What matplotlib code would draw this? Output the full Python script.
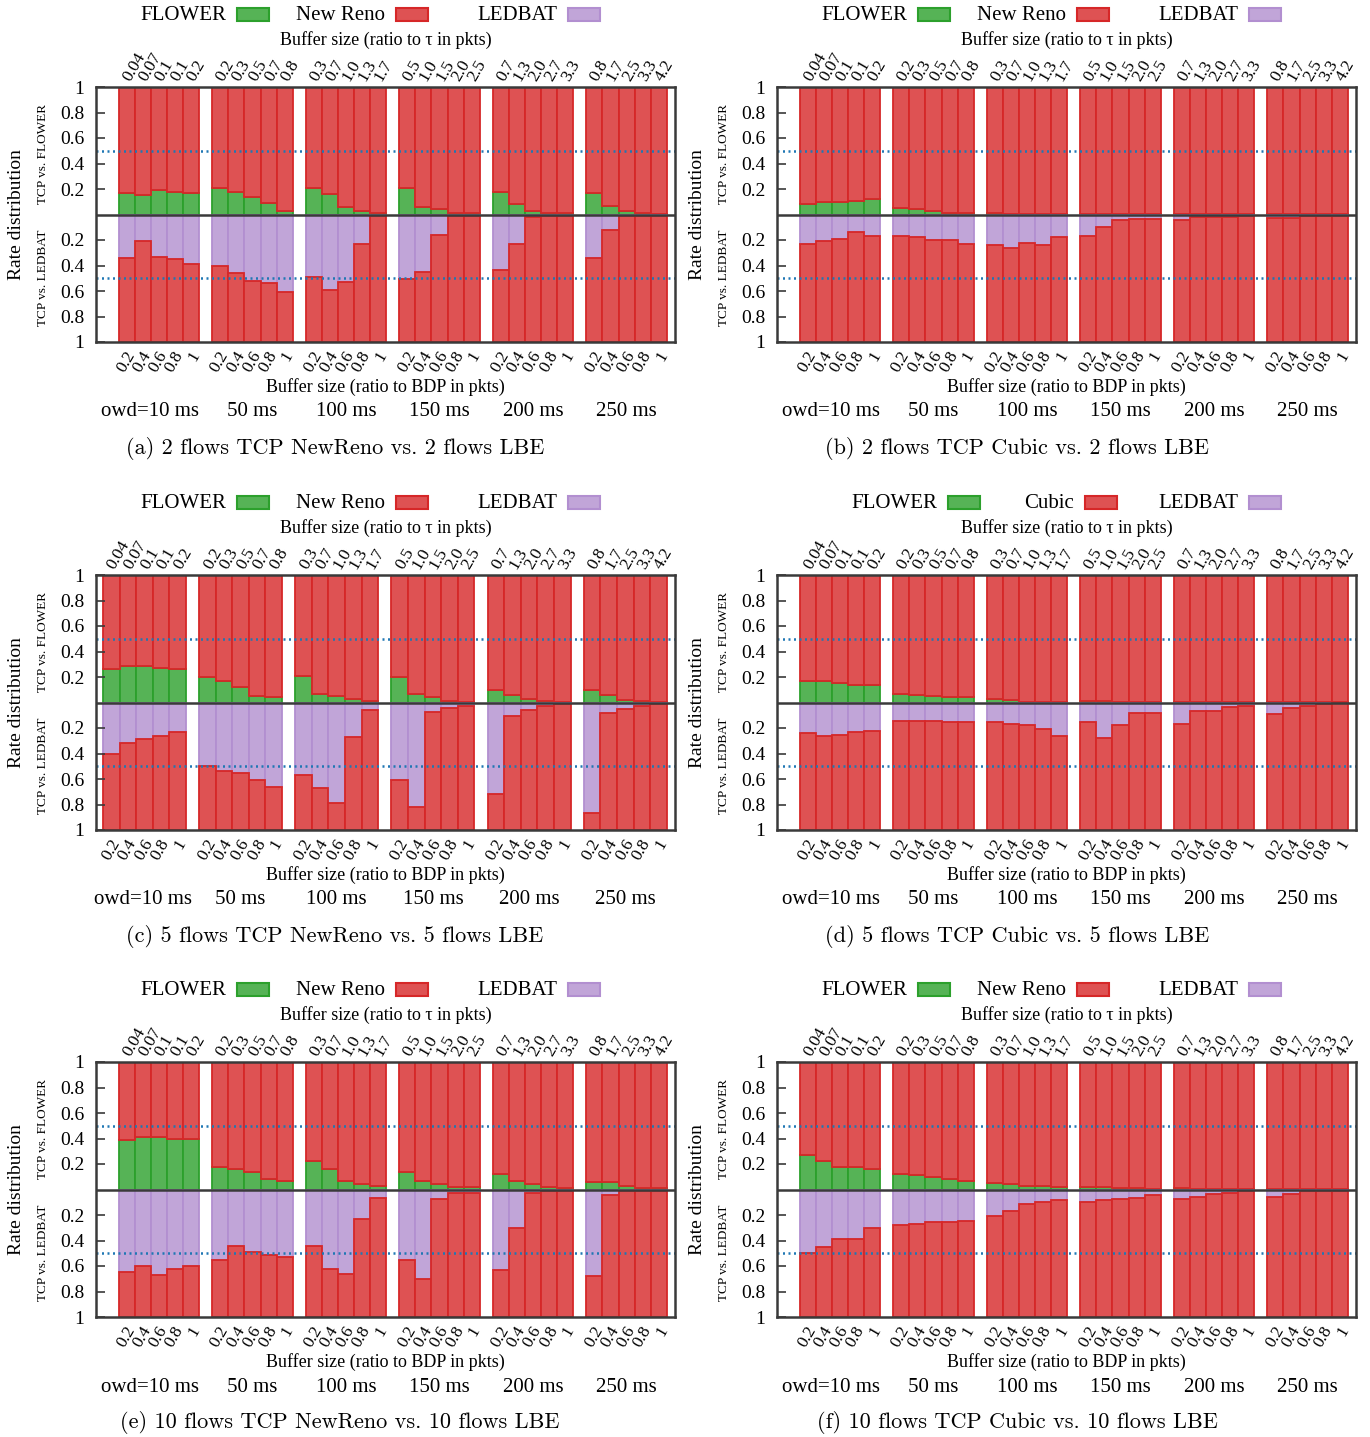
import matplotlib
matplotlib.use("Agg")
import matplotlib.pyplot as plt
from matplotlib.patches import Rectangle
from matplotlib.transforms import ScaledTranslation
import numpy as np

plt.rcParams['font.family'] = ['Liberation Serif', 'DejaVu Serif']

# --- data: share of FLOWER (top) and LEDBAT (bottom) per bar, 6 owd groups x 5 buffer sizes ---
owd_labels = ["owd=10 ms", "50 ms", "100 ms", "150 ms", "200 ms", "250 ms"]
bdp_labels = ["0.2", "0.4", "0.6", "0.8", "1"]
tau_labels = [["0.04", "0.07", "0.1", "0.1", "0.2"],
              ["0.2", "0.3", "0.5", "0.7", "0.8"],
              ["0.3", "0.7", "1.0", "1.3", "1.7"],
              ["0.5", "1.0", "1.5", "2.0", "2.5"],
              ["0.7", "1.3", "2.0", "2.7", "3.3"],
              ["0.8", "1.7", "2.5", "3.3", "4.2"]]

flower_a = [[0.17, 0.15, 0.195, 0.175, 0.17],
            [0.205, 0.175, 0.135, 0.09, 0.03],
            [0.205, 0.16, 0.06, 0.03, 0.01],
            [0.205, 0.06, 0.04, 0.015, 0.01],
            [0.175, 0.08, 0.025, 0.015, 0.01],
            [0.17, 0.065, 0.025, 0.01, 0.005]]
ledbat_a = [[0.345, 0.205, 0.335, 0.35, 0.385],
            [0.40, 0.455, 0.525, 0.54, 0.61],
            [0.49, 0.595, 0.53, 0.23, 0.015],
            [0.505, 0.45, 0.16, 0.015, 0.015],
            [0.435, 0.23, 0.02, 0.015, 0.015],
            [0.34, 0.12, 0.015, 0.015, 0.015]]

flower_b = [[0.085, 0.095, 0.095, 0.105, 0.125],
            [0.05, 0.04, 0.03, 0.015, 0.015],
            [0.015, 0.004, 0.004, 0.004, 0.004],
            [0.004, 0.004, 0.004, 0.004, 0.004],
            [0.004, 0.004, 0.004, 0.004, 0.004],
            [0.004, 0.004, 0.004, 0.004, 0.004]]
ledbat_b = [[0.23, 0.21, 0.19, 0.14, 0.17],
            [0.17, 0.18, 0.20, 0.20, 0.23],
            [0.24, 0.26, 0.22, 0.24, 0.18],
            [0.17, 0.10, 0.04, 0.035, 0.035],
            [0.04, 0.02, 0.02, 0.02, 0.013],
            [0.026, 0.026, 0.015, 0.015, 0.015]]

flower_c = [[0.26, 0.29, 0.29, 0.27, 0.26],
            [0.20, 0.17, 0.12, 0.05, 0.04],
            [0.21, 0.07, 0.05, 0.03, 0.01],
            [0.20, 0.07, 0.04, 0.01, 0.005],
            [0.10, 0.06, 0.03, 0.01, 0.005],
            [0.10, 0.06, 0.02, 0.01, 0.005]]
ledbat_c = [[0.40, 0.32, 0.29, 0.26, 0.235],
            [0.50, 0.54, 0.55, 0.61, 0.66],
            [0.57, 0.67, 0.79, 0.27, 0.06],
            [0.61, 0.82, 0.075, 0.045, 0.025],
            [0.72, 0.105, 0.06, 0.03, 0.015],
            [0.87, 0.085, 0.05, 0.03, 0.01]]

flower_d = [[0.17, 0.17, 0.15, 0.14, 0.14],
            [0.07, 0.06, 0.05, 0.04, 0.04],
            [0.03, 0.02, 0.005, 0.005, 0.005],
            [0.01, 0.01, 0.003, 0.003, 0.003],
            [0.003, 0.003, 0.003, 0.003, 0.003],
            [0.003, 0.003, 0.003, 0.003, 0.003]]
ledbat_d = [[0.24, 0.26, 0.255, 0.235, 0.22],
            [0.145, 0.145, 0.145, 0.155, 0.155],
            [0.155, 0.165, 0.175, 0.205, 0.26],
            [0.155, 0.28, 0.175, 0.085, 0.085],
            [0.165, 0.07, 0.07, 0.035, 0.025],
            [0.09, 0.045, 0.025, 0.015, 0.005]]

flower_e = [[0.385, 0.41, 0.41, 0.40, 0.40],
            [0.18, 0.16, 0.14, 0.08, 0.07],
            [0.22, 0.16, 0.07, 0.04, 0.03],
            [0.14, 0.07, 0.04, 0.02, 0.02],
            [0.12, 0.07, 0.04, 0.02, 0.01],
            [0.06, 0.06, 0.03, 0.01, 0.01]]
ledbat_e = [[0.645, 0.60, 0.67, 0.62, 0.60],
            [0.555, 0.44, 0.49, 0.51, 0.53],
            [0.44, 0.62, 0.66, 0.235, 0.065],
            [0.55, 0.70, 0.075, 0.025, 0.025],
            [0.63, 0.30, 0.025, 0.015, 0.015],
            [0.68, 0.045, 0.015, 0.015, 0.015]]

flower_f = [[0.27, 0.225, 0.18, 0.18, 0.16],
            [0.12, 0.11, 0.10, 0.08, 0.07],
            [0.05, 0.04, 0.03, 0.03, 0.02],
            [0.02, 0.02, 0.01, 0.01, 0.005],
            [0.01, 0.005, 0.005, 0.005, 0.005],
            [0.005, 0.005, 0.005, 0.005, 0.005]]
ledbat_f = [[0.50, 0.45, 0.39, 0.39, 0.305],
            [0.275, 0.27, 0.255, 0.255, 0.245],
            [0.205, 0.165, 0.115, 0.095, 0.085],
            [0.095, 0.085, 0.075, 0.065, 0.045],
            [0.075, 0.055, 0.035, 0.025, 0.015],
            [0.055, 0.035, 0.015, 0.015, 0.01]]

# --- style ---
W, H = 1370, 1437
AW, AH = 579, 255
PERIOD = 5.8
GREEN = ('#56b356', '#2ca02c')
RED = ('#de5253', '#d62728')
PURPLE = ('#c1a5d8', '#b28fd0')
FRAME = '#3a3a3a'

fig = plt.figure(figsize=(W / 100, H / 100), dpi=100)


def panel(left, top, flower, ledbat, tcp_name, caption, cap_x, xstart, leg_ends, owd_shift):
    ax = fig.add_axes([left / W, 1 - (top + AH) / H, AW / W, AH / H])
    x = np.array([g * PERIOD + j for g in range(6) for j in range(5)], dtype=float)
    f = np.ravel(flower)
    l = np.ravel(ledbat)
    kw = dict(width=1, align='edge', linewidth=1.3)
    ax.bar(x, f, color=GREEN[0], edgecolor=GREEN[1], **kw)
    ax.bar(x, 1 - f, bottom=f, color=RED[0], edgecolor=RED[1], **kw)
    ax.bar(x, -l, color=PURPLE[0], edgecolor=PURPLE[1], **kw)
    ax.bar(x, -(1 - l), bottom=-l, color=RED[0], edgecolor=RED[1], **kw)

    ax.axhline(0, color=FRAME, lw=1.8, zorder=4)
    for yv in (0.5, -0.5):
        ax.axhline(yv, color='#1f77b4', lw=1.8, ls=(0, (0.8, 1.4)), zorder=3)

    ax.set_xlim(xstart, 5 * PERIOD + 5.5)
    ax.set_ylim(-1, 1)
    for s in ax.spines.values():
        s.set_color(FRAME)
        s.set_linewidth(1.8)
        s.set_zorder(5)

    ax.set_yticks([-1, -0.8, -0.6, -0.4, -0.2, 0.2, 0.4, 0.6, 0.8, 1])
    ax.set_yticklabels(['1', '0.8', '0.6', '0.4', '0.2', '0.2', '0.4', '0.6', '0.8', '1'])
    ax.tick_params(axis='y', direction='in', length=6.5, width=1.2, color=FRAME,
                   labelsize=14, pad=8.5)

    centers = x + 0.5
    ax.set_xticks(centers, labels=bdp_labels * 6)
    ax.tick_params(axis='x', length=0, pad=7.5, labelsize=12.5)
    shift = ScaledTranslation(5 / 100, 0, fig.dpi_scale_trans)
    for t in ax.get_xticklabels():
        t.set_rotation(60)
        t.set_ha('right')
        t.set_va('center')
        t.set_rotation_mode('anchor')
        t.set_transform(t.get_transform() + shift)

    sec = ax.secondary_xaxis('top')
    sec.set_xticks(centers, labels=[s for grp in tau_labels for s in grp])
    sec.tick_params(length=0, pad=5, labelsize=12.5)
    sec.spines['top'].set_visible(False)
    for t in sec.get_xticklabels():
        t.set_rotation(60)
        t.set_ha('left')
        t.set_va('center')
        t.set_rotation_mode('anchor')

    ax.annotate('Buffer size (ratio to \u03c4 in pkts)', xy=(0.5, 1), xycoords='axes fraction',
                xytext=(0, 47), textcoords='offset pixels', ha='center', va='center', fontsize=13)
    ax.annotate('Buffer size (ratio to BDP in pkts)', xy=(0.5, 0), xycoords='axes fraction',
                xytext=(0, -45), textcoords='offset pixels', ha='center', va='center', fontsize=13)
    for g, lab in enumerate(owd_labels):
        dx = owd_shift if g == 0 else 0
        ax.annotate(lab, xy=(g * PERIOD + 2.5, 0), xycoords=('data', 'axes fraction'),
                    xytext=(dx, -70), textcoords='offset pixels', ha='center', va='center',
                    fontsize=15)

    ax.annotate('Rate distribution', xy=(0, 0.5), xycoords='axes fraction', xytext=(-80, 0),
                textcoords='offset pixels', rotation=90, ha='center', va='center', fontsize=14)
    ax.annotate('TCP vs. FLOWER', xy=(0, 0.75), xycoords='axes fraction', xytext=(-53, -3),
                textcoords='offset pixels', rotation=90, ha='center', va='center', fontsize=9.5)
    ax.annotate('TCP vs. LEDBAT', xy=(0, 0.25), xycoords='axes fraction', xytext=(-53, 0),
                textcoords='offset pixels', rotation=90, ha='center', va='center', fontsize=9.5)

    # gnuplot-style key: label first, then sample box
    entries = [('FLOWER', GREEN), (tcp_name, RED), ('LEDBAT', PURPLE)]
    ky = top - 73
    for (lab, col), end in zip(entries, leg_ends):
        fig.text((left + end) / W, 1 - (ky + 1.5) / H, lab, ha='right', va='center', fontsize=15)
        bx = left + end + 11
        fig.add_artist(Rectangle((bx / W, 1 - (ky + 7) / H), 32 / W, 13 / H,
                                 transform=fig.transFigure, facecolor=col[0],
                                 edgecolor=col[1], linewidth=1.5))

    fig.text(cap_x / W, 1 - (top + AH + 106) / H, caption, ha='center', va='center',
             fontsize=16, family='cmr10')
    return ax


LEG_STD = [130, 289, 461]
LEG_CUBIC = [160, 297, 461]
panel(96, 87, flower_a, ledbat_a, 'New Reno', '(a) 2 flows TCP NewReno vs. 2 flows LBE', 335, -1.4, LEG_STD, -9)
panel(777, 87, flower_b, ledbat_b, 'New Reno', '(b) 2 flows TCP Cubic vs. 2 flows LBE', 1017, -1.4, LEG_STD, -9)
panel(96, 575, flower_c, ledbat_c, 'New Reno', '(c) 5 flows TCP NewReno vs. 5 flows LBE', 335, -0.42, LEG_STD, -1)
panel(777, 575, flower_d, ledbat_d, 'Cubic', '(d) 5 flows TCP Cubic vs. 5 flows LBE', 1017, -1.4, LEG_CUBIC, -9)
panel(96, 1062, flower_e, ledbat_e, 'New Reno', '(e) 10 flows TCP NewReno vs. 10 flows LBE', 340, -1.4, LEG_STD, -9)
panel(777, 1062, flower_f, ledbat_f, 'New Reno', '(f) 10 flows TCP Cubic vs. 10 flows LBE', 1017, -1.4, LEG_STD, -9)

fig.savefig('out.png', dpi=100)
